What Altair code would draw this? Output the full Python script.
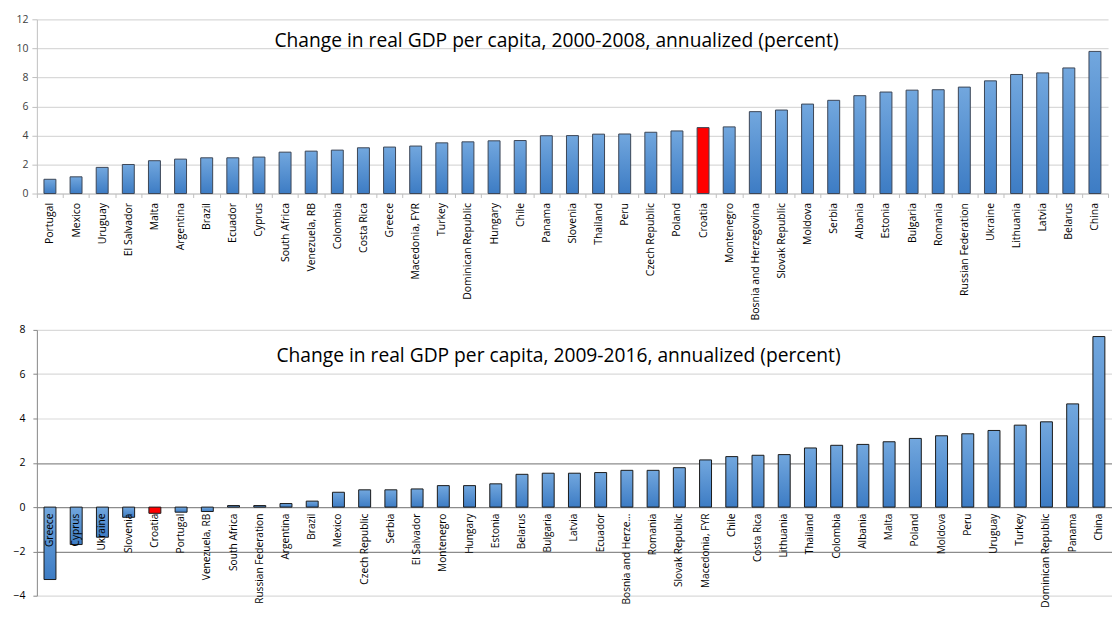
import altair as alt
import pandas as pd

# ---- data -------------------------------------------------------------
top_title = "Change in real GDP per capita, 2000-2008, annualized (percent)"
top_countries = [
    "Portugal", "Mexico", "Uruguay", "El Salvador", "Malta", "Argentina", "Brazil",
    "Ecuador", "Cyprus", "South Africa", "Venezuela, RB", "Colombia", "Costa Rica",
    "Greece", "Macedonia, FYR", "Turkey", "Dominican Republic", "Hungary", "Chile",
    "Panama", "Slovenia", "Thailand", "Peru", "Czech Republic", "Poland", "Croatia",
    "Montenegro", "Bosnia and Herzegovina", "Slovak Republic", "Moldova", "Serbia",
    "Albania", "Estonia", "Bulgaria", "Romania", "Russian Federation", "Ukraine",
    "Lithuania", "Latvia", "Belarus", "China",
]
top_values = [
    0.98, 1.15, 1.80, 2.00, 2.26, 2.37, 2.46, 2.46, 2.51, 2.85, 2.92, 2.99, 3.15,
    3.20, 3.27, 3.49, 3.56, 3.63, 3.65, 3.98, 3.99, 4.09, 4.10, 4.22, 4.31, 4.54,
    4.59, 5.64, 5.75, 6.16, 6.42, 6.74, 6.99, 7.12, 7.15, 7.33, 7.76, 8.20, 8.31,
    8.65, 9.79,
]

bottom_title = "Change in real GDP per capita, 2009-2016, annualized (percent)"
bottom_countries = [
    "Greece", "Cyprus", "Ukraine", "Slovenia", "Croatia", "Portugal", "Venezuela, RB",
    "South Africa", "Russian Federation", "Argentina", "Brazil", "Mexico",
    "Czech Republic", "Serbia", "El Salvador", "Montenegro", "Hungary", "Estonia",
    "Belarus", "Bulgaria", "Latvia", "Ecuador", "Bosnia and Herzegovina", "Romania",
    "Slovak Republic", "Macedonia, FYR", "Chile", "Costa Rica", "Lithuania",
    "Thailand", "Colombia", "Albania", "Malta", "Poland", "Moldova", "Peru",
    "Uruguay", "Turkey", "Dominican Republic", "Panama", "China",
]
bottom_values = [
    -3.27, -1.69, -1.36, -0.46, -0.28, -0.23, -0.20, 0.07, 0.07, 0.16, 0.27, 0.67,
    0.78, 0.78, 0.82, 0.97, 0.97, 1.05, 1.48, 1.53, 1.53, 1.56, 1.66, 1.66, 1.78,
    2.13, 2.28, 2.34, 2.37, 2.67, 2.79, 2.83, 2.95, 3.10, 3.22, 3.31, 3.46, 3.70,
    3.85, 4.66, 7.70,
]
highlight = "Croatia"

top_ticks = [0, 2, 4, 6, 8, 10, 12]
bottom_ticks = [-4, -2, 0, 2, 4, 6, 8]

# ---- styling ----------------------------------------------------------
FONT = "Open Sans"
blue_gradient = {
    "gradient": "linear", "x1": 0, "y1": 0, "x2": 0, "y2": 1,
    "stops": [{"offset": 0, "color": "#72a7de"}, {"offset": 1, "color": "#3d7cc4"}],
}
fill_rule = alt.condition(
    f"datum.country == '{highlight}'", alt.value("#ff0000"), alt.value(blue_gradient)
)

top_df = pd.DataFrame({"country": top_countries, "value": top_values})
bot_df = pd.DataFrame({"country": bottom_countries, "value": bottom_values})

TOP_W, TOP_H = 1076, 175
BOT_W, BOT_H = 1076, 267
BOT_RANGE = 1080

# ---- top panel --------------------------------------------------------
top_x = alt.X(
    "country:N", sort=None, title=None,
    scale=alt.Scale(paddingInner=0, paddingOuter=0),
    axis=alt.Axis(labelAngle=-90, labelFontSize=10.5, labelColor="#000000",
                  labelPadding=5, tickBand="extent", tickSize=4,
                  domainColor="#bfbfbf", tickColor="#bfbfbf", labelLimit=300),
)
top_y = alt.Y(
    "value:Q", title=None,
    scale=alt.Scale(domain=[0, 12], nice=False, zero=False),
    axis=alt.Axis(values=top_ticks, labelFontSize=10.5, labelColor="#404040",
                  tickSize=5, labelPadding=4, domainColor="#bfbfbf",
                  tickColor="#bfbfbf", gridColor="#d9d9d9", gridWidth=1.2),
)
top_bars = alt.Chart(top_df).mark_bar(width=12, stroke="#3b4656", strokeWidth=1).encode(
    x=top_x, y=top_y, fill=fill_rule
)
top_text = alt.Chart(pd.DataFrame({"t": [top_title]})).mark_text(
    font=FONT, fontSize=19.3, color="#000000", baseline="middle", align="center"
).encode(text="t:N", x=alt.value(522), y=alt.value(22))
top_panel = alt.layer(top_bars, top_text).properties(width=TOP_W, height=TOP_H)

# ---- bottom panel -----------------------------------------------------
zero_px = BOT_H * 8 / 12
bot_x = alt.X(
    "country:N", sort=None, title=None,
    scale=alt.Scale(paddingInner=0, paddingOuter=0, range=[0, BOT_RANGE]),
    axis=alt.Axis(labelAngle=-90, labelFontSize=10.2, labelColor="#000000",
                  labelPadding=6, ticks=False, domain=False,
                  offset=-(BOT_H - zero_px), zindex=1, labelLimit=95),
)
bot_y = alt.Y(
    "value:Q", title=None,
    scale=alt.Scale(domain=[-4, 8], nice=False, zero=False),
    axis=alt.Axis(values=bottom_ticks, labelFontSize=10.5, labelColor="#000000",
                  tickSize=4, labelPadding=8, domainColor="#868686",
                  tickColor="#868686",
                  gridColor={"condition": {"test": "abs(datum.value) <= 2",
                                           "value": "#8c8c8c"}, "value": "#dadada"},
                  gridWidth=1.2),
)
bot_bars = alt.Chart(bot_df).mark_bar(width=12, stroke="#1a1a1a", strokeWidth=1).encode(
    x=bot_x, y=bot_y, fill=fill_rule
)
bot_text = alt.Chart(pd.DataFrame({"t": [bottom_title]})).mark_text(
    font=FONT, fontSize=19.3, color="#000000", baseline="middle", align="center"
).encode(text="t:N", x=alt.value(524), y=alt.value(26))
bot_panel = alt.layer(bot_bars, bot_text).properties(width=BOT_W, height=BOT_H)

chart = (
    alt.vconcat(top_panel, bot_panel, spacing=137, bounds="flush")
    .properties(padding={"left": 4, "top": 5, "right": 0, "bottom": 0}, background="white")
    .configure_view(stroke=None)
    .configure_axis(labelFont=FONT, grid=True)
    .configure_axisX(grid=False)
)

chart.save("out.html", embed_options={"renderer": "svg", "actions": False})
